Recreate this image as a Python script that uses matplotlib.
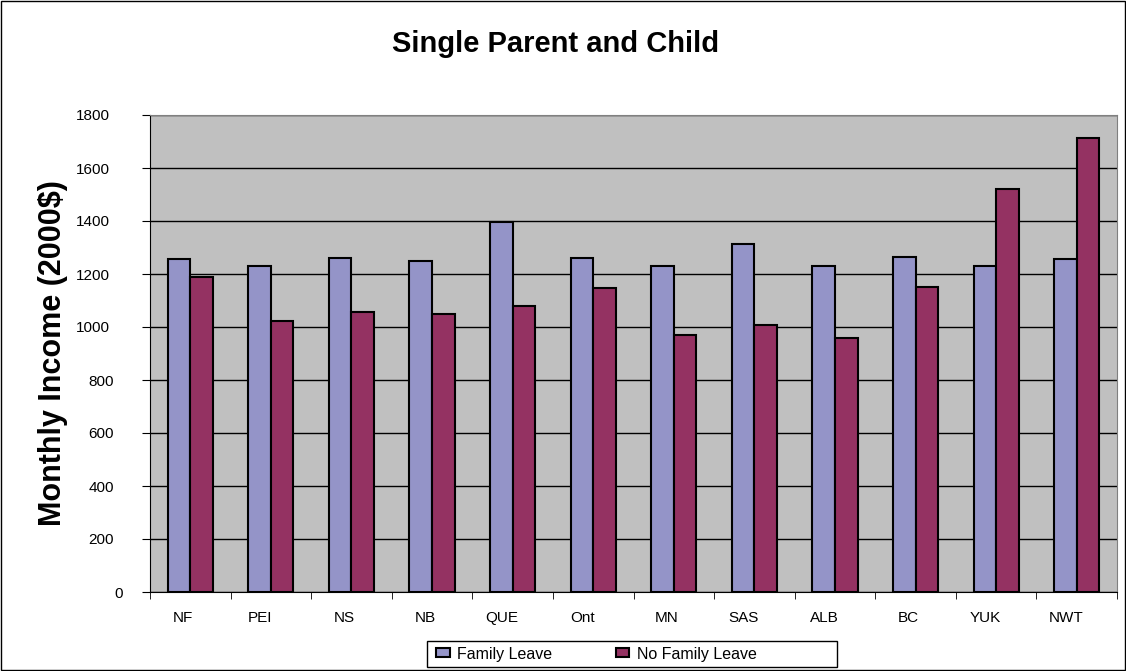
import numpy as np
import matplotlib
matplotlib.use("Agg")
import matplotlib.pyplot as plt
from matplotlib.patches import Rectangle
from matplotlib.transforms import ScaledTranslation

plt.rcParams['font.family'] = ['Liberation Sans', 'DejaVu Sans']

provinces = ['NF', 'PEI', 'NS', 'NB', 'QUE', 'Ont', 'MN', 'SAS', 'ALB', 'BC', 'YUK', 'NWT']
family_leave = [1255, 1230, 1260, 1250, 1396, 1260, 1230, 1313, 1230, 1265, 1230, 1255]
no_family_leave = [1189, 1021, 1058, 1048, 1078, 1146, 969, 1009, 960, 1150, 1521, 1713]
yticks = list(range(0, 1801, 200))

fig = plt.figure(figsize=(11.26, 6.71), dpi=100)
ax = fig.add_axes([150 / 1126, 79 / 671, 967 / 1126, 477 / 671])
ax.set_facecolor('#C0C0C0')

x = np.arange(len(provinces))
w = 0.28
ax.bar(x - w / 2, family_leave, w, color='#9494C8', edgecolor='black', linewidth=1.5,
       label='Family Leave', zorder=3)
ax.bar(x + w / 2, no_family_leave, w, color='#943262', edgecolor='black', linewidth=1.5,
       label='No Family Leave', zorder=3)

ax.set_xlim(-0.5, len(provinces) - 0.5)
ax.set_ylim(0, 1800)
ax.set_yticks(yticks, [str(v) for v in yticks])
ax.yaxis.grid(True, color='black', linewidth=1)
ax.set_axisbelow(True)

ax.set_xticks(x, provinces)
ax.set_xticks(np.arange(-0.5, len(provinces), 1), minor=True)
ax.tick_params(axis='x', which='major', length=0, pad=14, labelsize=11)
ax.tick_params(axis='x', which='minor', length=5, direction='out', color='black')
ax.tick_params(axis='y', length=6, direction='out', labelsize=11, pad=10.8)

# excel-style label placement (shorter labels sit closer to the axis)
for lbl in ax.get_yticklabels():
    n = len(lbl.get_text())
    lbl.set_transform(lbl.get_transform() + ScaledTranslation(-4.2 * n / 100, 0, fig.dpi_scale_trans))
for lbl in ax.get_xticklabels():
    n = len(lbl.get_text())
    lbl.set_transform(lbl.get_transform() + ScaledTranslation(-3.5 * n / 100, 0, fig.dpi_scale_trans))

ax.spines['top'].set_color('#808080')
ax.spines['right'].set_color('#808080')
ax.spines['left'].set_color('black')
ax.spines['bottom'].set_color('black')

ax.set_ylabel('Monthly Income (2000$)', fontsize=22, fontweight='bold', labelpad=6)
fig.text(556 / 1126, 1 - 44 / 671, 'Single Parent and Child', fontsize=21,
         fontweight='bold', ha='center', va='center')

leg = fig.legend(loc='center left', bbox_to_anchor=(436 / 1126, 1 - 654 / 671), ncol=2,
                 frameon=False, fontsize=11.5, handlelength=0.85,
                 handleheight=0.5, handletextpad=0.45, columnspacing=4.0, borderpad=0.0,
                 borderaxespad=0)
for h in leg.legend_handles:
    h.set_linewidth(1.5)

fig.patches.append(Rectangle((427 / 1126, 1 - 667 / 671), 410 / 1126, 26 / 671,
                             transform=fig.transFigure, fill=False, edgecolor='black',
                             linewidth=1))
fig.patches.append(Rectangle((0.001, 0.001), 0.998, 0.998, transform=fig.transFigure,
                             fill=False, edgecolor='black', linewidth=1))

fig.savefig('out.png', dpi=100)
